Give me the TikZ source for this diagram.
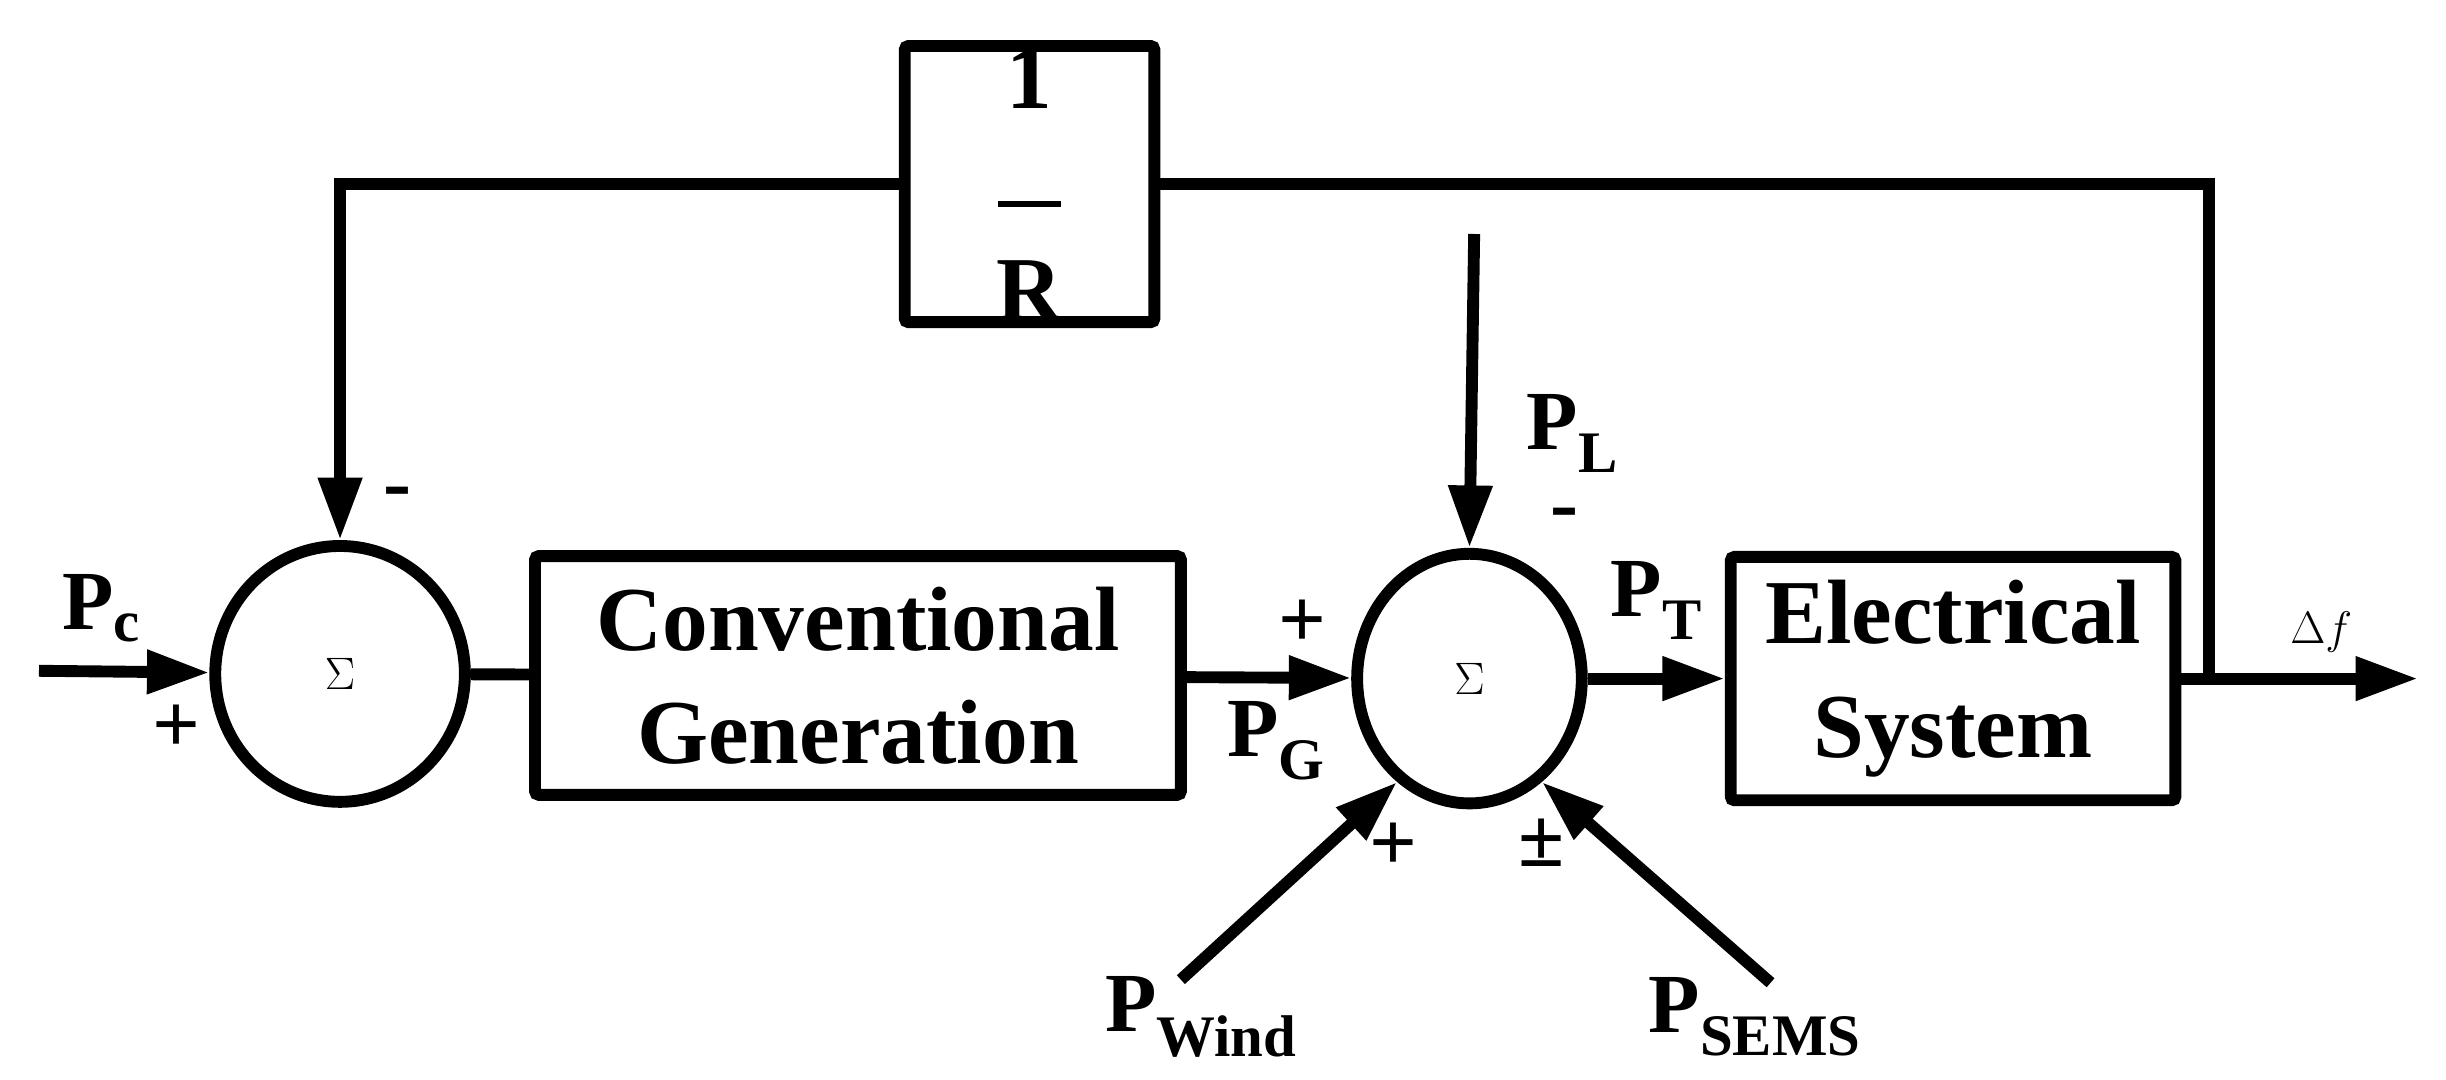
\documentclass[tikz,border=0pt]{standalone}
\usepackage{fontspec}
\setmainfont{Liberation Serif}
\usetikzlibrary{arrows.meta,shapes.geometric}
\begin{document}
\begin{tikzpicture}[x=0.03cm,y=-0.03cm,
  ln/.style={line width=6.5pt},
  ar/.style={ln,-{Triangle[length=1.2cm,width=0.8cm]}},
  blk/.style={draw,line width=6.5pt,rounded corners=2pt,inner sep=0pt,align=center,font=\fontsize{50}{62}\selectfont\bfseries},
  sm/.style={draw,line width=6.5pt,ellipse,inner sep=0pt,font=\fontsize{110}{110}\selectfont},
  lb/.style={font=\fontsize{46}{50}\selectfont\bfseries,inner sep=0pt}]
\useasboundingbox[fill=white] (0,0) rectangle (1568,692);
\node[sm,minimum width=4.8cm,minimum height=4.92cm] (s1) at (218,432) {$\Sigma$};
\node[sm,minimum width=4.32cm,minimum height=4.8cm] (s2) at (942,435) {$\Sigma$};
\node[blk,minimum width=12.42cm,minimum height=4.59cm] (cg) at (550,433) {Conventional\\Generation};
\node[blk,minimum width=8.55cm,minimum height=4.68cm] (es) at (1252,435) {Electrical\\System};
\node[blk,minimum width=4.8cm,minimum height=5.31cm] (r) at (660,118) {1\\[-8pt]\rule{1.2cm}{3pt}\\R};
\coordinate (in) at (25,430);
\coordinate (out) at (1550,435);
\coordinate (tap) at (1416,435);
\coordinate (pl) at (945,150);
\coordinate (pw) at (757,628);
\coordinate (pse) at (1135,630);
\draw[ar] (in) -- (s1);
\draw[ln] (s1) -- (cg);
\draw[ar] (cg) -- (s2);
\draw[ar] (s2) -- (es);
\draw[ar] (es) -- (out);
\draw[ln] (tap) -- (1416,118) -- (r.east);
\draw[ar] (r.west) -- (218,118) -- (s1.north);
\draw[ar] (pl) -- (s2.north);
\draw[ar] (pw) -- (s2.-125);
\draw[ar] (pse) -- (s2.-55);
\node[lb] (lpc) at (65,390) {P\textsubscript{c}};
\node[lb] (lp1) at (113,467) {+};
\node[lb] (lm1) at (255,320) {-};
\node[lb] (lp2) at (835,400) {+};
\node[lb] (lpg) at (818,475) {P\textsubscript{G}};
\node[lb] (lpl) at (1008,278) {P\textsubscript{L}};
\node[lb] (lm2) at (1003,333) {-};
\node[lb] (lpt) at (1062,385) {P\textsubscript{T}};
\node[lb] (lp3) at (893,543) {+};
\node[lb] (lpm) at (988,540) {±};
\node[lb] (lpw) at (770,652) {P\textsubscript{Wind}};
\node[lb] (lps) at (1125,652) {P\textsubscript{SEMS}};
\node[lb] (ldf) at (1488,405) {$\Delta f$};
\end{tikzpicture}
\end{document}
